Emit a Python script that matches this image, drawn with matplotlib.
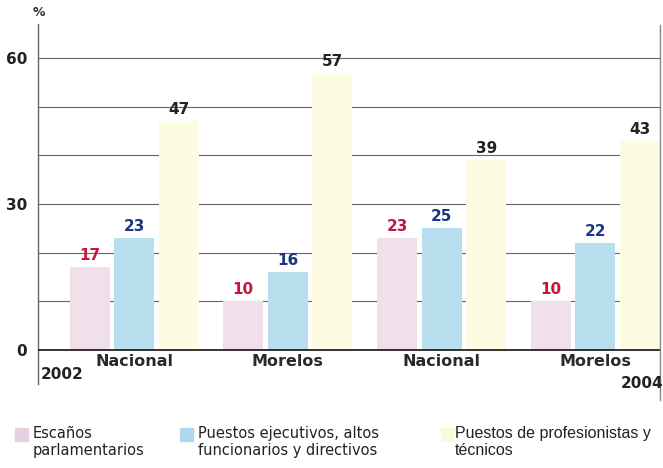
import numpy as np
import matplotlib.pyplot as plt
from matplotlib.patches import Rectangle
from matplotlib.lines import Line2D

plt.rcParams['font.family'] = ['DejaVu Sans']

grupos = ['Nacional', 'Morelos', 'Nacional', 'Morelos']
escanos = [17, 10, 23, 10]
ejecutivos = [23, 16, 25, 22]
profesionistas = [47, 57, 39, 43]
series_nombres = ['Escaños\nparlamentarios',
                  'Puestos ejecutivos, altos\nfuncionarios y directivos',
                  'Puestos de profesionistas y\ntécnicos']

c_pink = '#f1dfe9'
c_blue = '#b9dfee'
c_yel = '#fdfbe2'

W, H = 663, 468
fig = plt.figure(figsize=(W / 100, H / 100), dpi=100)
ax = fig.add_axes([38 / W, 1 - 384 / H, (660 - 38) / W, (384 - 24) / H])

x = np.arange(len(grupos))
ancho = 0.26
sep = 0.29

b1 = ax.bar(x - sep, escanos, ancho, color=c_pink, zorder=2)
b2 = ax.bar(x, ejecutivos, ancho, color=c_blue, zorder=2)
b3 = ax.bar(x + sep, profesionistas, ancho, color=c_yel, zorder=2)

for bars, vals, col in [(b1, escanos, '#c8143c'), (b2, ejecutivos, '#1b3784'),
                        (b3, profesionistas, '#222222')]:
    for r, v in zip(bars, vals):
        ax.text(r.get_x() + r.get_width() / 2, v + 0.8, str(v), ha='center', va='bottom',
                fontsize=11, fontweight='bold', color=col, zorder=4)

# lineas de referencia
for g in range(10, 61, 10):
    ax.axhline(g, color='#666666', lw=0.8, zorder=1)
ax.axhline(0, color='#222222', lw=1.3, zorder=3)

ax.set_xlim(-0.625, 3.42)
ax.set_ylim(-7, 67)
ax.set_yticks([0, 30, 60])
ax.set_yticklabels(['0', '30', '60'], fontsize=11, fontweight='bold', color='#222222')
ax.tick_params(axis='y', length=0, pad=8)
ax.set_xticks([])
for s in ['top', 'right', 'bottom']:
    ax.spines[s].set_visible(False)
ax.spines['left'].set_color('#666666')
ax.spines['left'].set_linewidth(1)

for i, g in enumerate(grupos):
    ax.text(x[i], -0.9, g, ha='center', va='top', fontsize=11.5, fontweight='bold',
            color='#2a2a2a')

ax.text(-0.61, -3.6, '2002', ha='left', va='top', fontsize=11, fontweight='bold', color='#222222')
fig.text(663 / W, 1 - 384 / H, '2004', ha='right', va='center', fontsize=11,
         fontweight='bold', color='#222222')
fig.text(39 / W, 1 - 12 / H, '%', ha='center', va='center', fontsize=9,
         fontweight='bold', color='#333333')

# linea derecha
fig.add_artist(Line2D([660 / W, 660 / W], [1 - 25 / H, 1 - 400 / H], color='#888888', lw=1))

# leyenda
leg_x = [15, 180, 441]
leg_tx = [33, 198, 455]
leg_col = ['#e6cfe0', '#aed8ee', '#fbf8dc']
leg_fam = [['DejaVu Sans'], ['DejaVu Sans'], ['Liberation Sans', 'DejaVu Sans']]
leg_fs = [10.5, 10.5, 11.5]
for lx, tx, lc, nombre, fam, fs in zip(leg_x, leg_tx, leg_col, series_nombres, leg_fam, leg_fs):
    fig.add_artist(Rectangle((lx / W, 1 - 441 / H), 13 / W, 13 / H, color=lc,
                             transform=fig.transFigure))
    fig.text(tx / W, 1 - 426 / H, nombre, ha='left', va='top', fontsize=fs,
             family=fam, color='#222222', linespacing=1.2)

fig.savefig('out.png', dpi=100, facecolor='white')
